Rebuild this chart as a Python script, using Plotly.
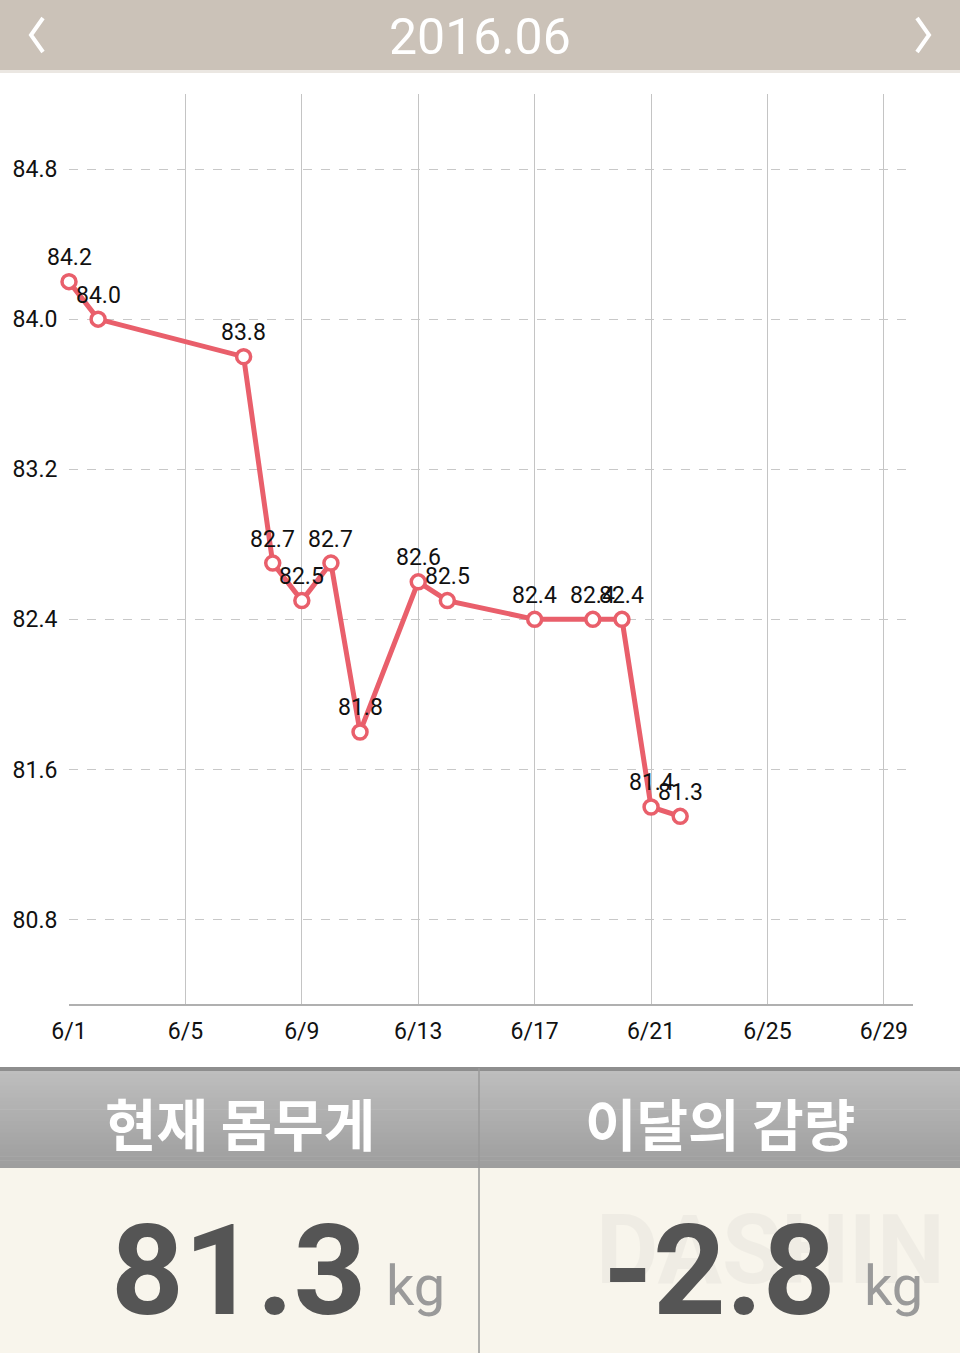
import plotly.graph_objects as go

# ---- data ----
days = [1, 2, 7, 8, 9, 10, 11, 13, 14, 17, 19, 20, 21, 22]
weights = [84.2, 84.0, 83.8, 82.7, 82.5, 82.7, 81.8, 82.6, 82.5, 82.4, 82.4, 82.4, 81.4, 81.35]
x_tick_vals = [1, 5, 9, 13, 17, 21, 25, 29]
x_tick_text = ["6/1", "6/5", "6/9", "6/13", "6/17", "6/21", "6/25", "6/29"]
title_text = "2016.06"
panel_titles = ["현재 몸무게", "이달의 감량"]
current_weight = "81.3"
monthly_change = "-2.8"
unit = "kg"

W, H = 960, 1353
L, R, T, B = 69, 913, 94, 1004
LINE = "#e95f6b"


def xp(px):
    return (px - L) / (R - L)


def yp(py):
    return (B - py) / (B - T)


fig = go.Figure()
fig.add_trace(go.Scatter(
    x=days, y=weights, mode="lines+markers",
    line=dict(color=LINE, width=5),
    marker=dict(size=14, color="white", line=dict(color=LINE, width=3.5)),
    hoverinfo="skip", showlegend=False, cliponaxis=False,
))

annotations = []
for d, w in zip(days, weights):
    annotations.append(dict(
        x=d, y=w, xref="x", yref="y", text=f"{w:.1f}", showarrow=False,
        yshift=24, font=dict(family="Roboto", size=23, color="#111111"),
    ))

shapes = []
# title bar
shapes.append(dict(type="rect", xref="paper", yref="paper", x0=xp(0), x1=xp(W), y0=yp(0), y1=yp(70),
                   fillcolor="#cbc2b8", line=dict(width=0), layer="below"))
shapes.append(dict(type="rect", xref="paper", yref="paper", x0=xp(0), x1=xp(W), y0=yp(70), y1=yp(73),
                   fillcolor="#ebe7e2", line=dict(width=0), layer="below"))
# chevrons
shapes.append(dict(type="path", xref="paper", yref="paper",
                   path=f"M {xp(43)},{yp(18)} L {xp(31)},{yp(35)} L {xp(43)},{yp(52)}",
                   line=dict(color="white", width=4)))
shapes.append(dict(type="path", xref="paper", yref="paper",
                   path=f"M {xp(917)},{yp(18)} L {xp(929)},{yp(35)} L {xp(917)},{yp(52)}",
                   line=dict(color="white", width=4)))

# bottom panel header gradient
top, bot = 1070, 1168
n = 25
c0, c1 = (190, 190, 190), (158, 158, 158)
for i in range(n):
    t = i / (n - 1)
    col = tuple(int(c0[k] + (c1[k] - c0[k]) * t) for k in range(3))
    y0 = top + (bot - top) * i / n
    y1 = top + (bot - top) * (i + 1) / n + 0.6
    shapes.append(dict(type="rect", xref="paper", yref="paper", x0=xp(0), x1=xp(W), y0=yp(y0), y1=yp(y1),
                       fillcolor=f"rgb{col}", line=dict(width=0), layer="below"))
shapes.append(dict(type="rect", xref="paper", yref="paper", x0=xp(0), x1=xp(W), y0=yp(1067), y1=yp(1071),
                   fillcolor="#8e8e8e", line=dict(width=0), layer="below"))
shapes.append(dict(type="rect", xref="paper", yref="paper", x0=xp(0), x1=xp(W), y0=yp(bot), y1=yp(H),
                   fillcolor="#f8f5ec", line=dict(width=0), layer="below"))
shapes.append(dict(type="line", xref="paper", yref="paper", x0=xp(479), x1=xp(479), y0=yp(1068), y1=yp(H),
                   line=dict(color="#9a9a9a", width=1.5)))

# header title
annotations.append(dict(xref="paper", yref="paper", x=xp(480), y=yp(37), text=title_text, showarrow=False,
                        xanchor="center", yanchor="middle",
                        font=dict(family="Roboto", size=50, color="white")))
# panel titles
for cx, txt in zip([240, 720], panel_titles):
    annotations.append(dict(xref="paper", yref="paper", x=xp(cx), y=yp(1121), text=txt, showarrow=False,
                            xanchor="center", yanchor="middle",
                            font=dict(family="Noto Sans CJK KR", size=56, color="white", weight="bold")))
# watermark
annotations.append(dict(xref="paper", yref="paper", x=xp(770), y=yp(1250), text="DASHIN", showarrow=False,
                        xanchor="center", yanchor="middle", opacity=0.07,
                        font=dict(family="Roboto", size=96, color="#888888", weight="bold")))
# big values
for cx, txt, kx in [(238, current_weight, 415), (719, monthly_change, 893)]:
    annotations.append(dict(xref="paper", yref="paper", x=xp(cx), y=yp(1270), text=txt, showarrow=False,
                            xanchor="center", yanchor="middle",
                            font=dict(family="Roboto", size=127, color="#555555", weight="bold")))
    annotations.append(dict(xref="paper", yref="paper", x=xp(kx), y=yp(1286), text=unit, showarrow=False,
                            xanchor="center", yanchor="middle",
                            font=dict(family="Roboto", size=56, color="#9a9a9a")))

fig.update_layout(
    width=W, height=H,
    margin=dict(l=L, r=W - R, t=T, b=H - B, autoexpand=False),
    paper_bgcolor="white", plot_bgcolor="white",
    shapes=shapes, annotations=annotations,
    xaxis=dict(range=[1, 30], tickvals=x_tick_vals, ticktext=x_tick_text,
               showgrid=True, gridcolor="#c4c4c4", gridwidth=1,
               showline=True, linecolor="#b0b0b0", linewidth=1.5,
               ticks="outside", ticklen=6, tickcolor="rgba(0,0,0,0)", automargin=False,
               tickfont=dict(family="Roboto", size=23, color="#111111"), zeroline=False, fixedrange=True),
    yaxis=dict(range=[80.35, 85.2], tick0=80.8, dtick=0.8, tickformat=".1f",
               showgrid=True, gridcolor="#c8c8c8", gridwidth=1, griddash="dash",
               showline=False, zeroline=False, automargin=False,
               ticks="outside", ticklen=6, tickcolor="rgba(0,0,0,0)",
               tickfont=dict(family="Roboto", size=23, color="#111111"), fixedrange=True),
)

fig.write_html("out.html", config={"displayModeBar": False},
               post_script="document.body.style.margin='0';document.body.style.overflow='hidden';")
